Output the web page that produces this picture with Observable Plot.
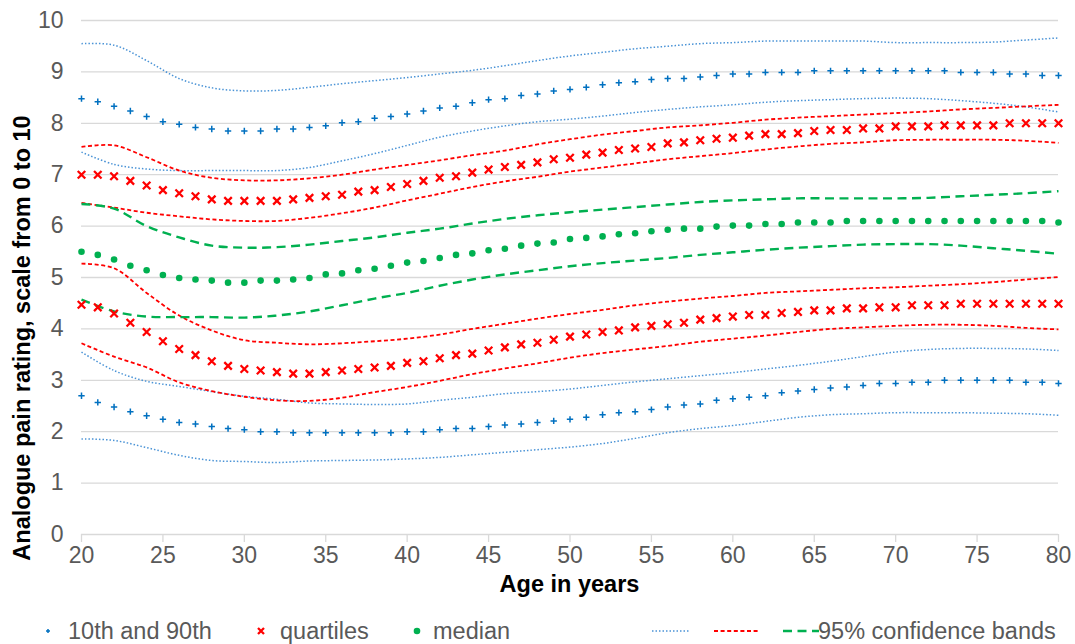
<!DOCTYPE html>
<html><head><meta charset="utf-8">
<script src="https://cdn.jsdelivr.net/npm/d3@7"></script>
<script src="https://cdn.jsdelivr.net/npm/@observablehq/plot@0.6"></script>
<style>
body{margin:0;background:#fff;font-family:"Liberation Sans",Arial,sans-serif;}
#wrap{position:relative;width:1075px;height:644px;overflow:hidden;}
#legend{position:absolute;left:0;top:616px;width:1075px;height:30px;font-size:23.5px;color:#595959;}
.li{position:absolute;top:0;line-height:30px;white-space:nowrap;}
.li svg{position:absolute;top:0;}
</style></head><body>
<div id="wrap"><div id="chart"></div><div id="legend"></div></div>
<script>
// ---- data ----
const ages = [20,21,22,23,24,25,26,27,28,29,30,31,32,33,34,35,36,37,38,39,40,41,42,43,44,45,46,47,48,49,50,51,52,53,54,55,56,57,58,59,60,61,62,63,64,65,66,67,68,69,70,71,72,73,74,75,76,77,78,79,80];
const p90 = [8.48,8.42,8.33,8.24,8.13,8.03,7.98,7.92,7.89,7.85,7.85,7.85,7.89,7.89,7.92,7.95,8.01,8.03,8.10,8.13,8.18,8.24,8.30,8.33,8.40,8.46,8.48,8.54,8.57,8.63,8.66,8.70,8.75,8.79,8.81,8.85,8.87,8.87,8.90,8.93,8.96,8.96,8.99,8.99,8.99,9.02,9.02,9.02,9.02,9.02,9.02,9.02,9.02,9.02,8.99,8.99,8.99,8.96,8.96,8.93,8.93];
const q3 = [7.00,7.00,6.97,6.88,6.79,6.70,6.64,6.58,6.52,6.49,6.49,6.49,6.49,6.52,6.55,6.58,6.61,6.67,6.70,6.76,6.82,6.88,6.94,6.97,7.04,7.10,7.15,7.19,7.24,7.30,7.33,7.39,7.43,7.48,7.51,7.54,7.61,7.63,7.67,7.70,7.72,7.76,7.79,7.79,7.81,7.85,7.87,7.87,7.90,7.90,7.94,7.94,7.94,7.96,7.96,7.96,7.96,8.00,8.00,8.00,8.00];
const median = [5.50,5.44,5.35,5.23,5.14,5.05,4.99,4.96,4.94,4.90,4.90,4.94,4.94,4.96,4.99,5.06,5.08,5.14,5.17,5.23,5.29,5.32,5.38,5.44,5.47,5.53,5.56,5.62,5.66,5.68,5.75,5.77,5.80,5.84,5.86,5.90,5.93,5.95,5.95,5.99,6.01,6.01,6.04,6.04,6.07,6.07,6.07,6.10,6.10,6.10,6.10,6.10,6.10,6.10,6.10,6.10,6.10,6.10,6.10,6.10,6.07];
const q1 = [4.47,4.42,4.30,4.12,3.94,3.76,3.61,3.49,3.37,3.28,3.22,3.19,3.16,3.13,3.13,3.16,3.19,3.22,3.25,3.28,3.34,3.37,3.43,3.49,3.52,3.58,3.64,3.70,3.73,3.79,3.85,3.89,3.94,3.97,4.03,4.06,4.09,4.12,4.18,4.21,4.24,4.27,4.27,4.31,4.33,4.36,4.36,4.40,4.40,4.42,4.42,4.46,4.46,4.46,4.49,4.49,4.49,4.49,4.49,4.49,4.49];
const p10 = [2.70,2.57,2.48,2.39,2.31,2.24,2.18,2.15,2.10,2.06,2.04,2.00,2.00,1.98,1.98,1.98,1.98,1.98,1.98,1.98,2.00,2.00,2.04,2.06,2.06,2.10,2.13,2.15,2.18,2.21,2.24,2.28,2.33,2.37,2.39,2.43,2.48,2.52,2.54,2.61,2.64,2.67,2.70,2.76,2.79,2.82,2.85,2.87,2.90,2.94,2.94,2.96,2.96,3.00,3.00,3.00,3.00,3.00,2.96,2.96,2.94];

// 95% confidence bands (read every 2 years)
const bandAges = [20,22,24,26,28,30,32,34,36,38,40,42,44,46,48,50,52,54,56,58,60,62,64,66,68,70,72,74,76,78,80];
const p90Upper = [9.55,9.52,9.22,8.87,8.69,8.63,8.64,8.70,8.77,8.83,8.89,8.96,9.03,9.12,9.22,9.31,9.38,9.45,9.50,9.55,9.57,9.60,9.60,9.60,9.60,9.57,9.57,9.57,9.58,9.62,9.66];
const p90Lower = [7.44,7.20,7.11,7.08,7.08,7.08,7.08,7.14,7.27,7.41,7.57,7.73,7.85,7.95,8.03,8.08,8.14,8.21,8.27,8.32,8.36,8.41,8.44,8.46,8.48,8.49,8.48,8.44,8.39,8.32,8.22];
const q3Upper = [7.54,7.57,7.34,7.08,6.94,6.89,6.89,6.93,7.00,7.10,7.19,7.28,7.38,7.47,7.59,7.69,7.78,7.85,7.92,7.96,8.01,8.07,8.11,8.14,8.17,8.20,8.23,8.27,8.30,8.33,8.36];
const q3Lower = [6.45,6.36,6.26,6.19,6.13,6.10,6.10,6.16,6.25,6.36,6.50,6.63,6.76,6.87,6.96,7.06,7.14,7.22,7.30,7.36,7.42,7.49,7.55,7.60,7.63,7.67,7.68,7.68,7.68,7.66,7.62];
const medUpper = [6.43,6.34,6.00,5.78,5.62,5.58,5.59,5.64,5.71,5.78,5.87,5.95,6.05,6.14,6.21,6.27,6.32,6.37,6.42,6.47,6.50,6.52,6.54,6.54,6.54,6.54,6.55,6.58,6.61,6.64,6.68];
const medLower = [4.57,4.34,4.24,4.23,4.23,4.22,4.26,4.34,4.46,4.59,4.70,4.84,4.96,5.06,5.14,5.22,5.28,5.33,5.38,5.44,5.49,5.54,5.58,5.61,5.64,5.65,5.65,5.62,5.57,5.52,5.46];
const q1Upper = [5.27,5.18,4.70,4.26,3.97,3.78,3.73,3.70,3.72,3.76,3.81,3.89,4.00,4.10,4.20,4.29,4.37,4.46,4.53,4.59,4.64,4.70,4.73,4.76,4.79,4.81,4.84,4.87,4.91,4.96,5.01];
const q1Lower = [3.72,3.46,3.25,2.96,2.79,2.68,2.61,2.60,2.66,2.77,2.87,2.99,3.12,3.23,3.33,3.44,3.53,3.60,3.67,3.75,3.81,3.87,3.94,4.00,4.03,4.06,4.08,4.08,4.06,4.02,3.99];
const p10Upper = [3.55,3.19,2.98,2.88,2.78,2.69,2.63,2.56,2.54,2.53,2.54,2.61,2.67,2.74,2.78,2.83,2.90,2.97,3.03,3.09,3.15,3.22,3.29,3.37,3.46,3.55,3.60,3.62,3.62,3.61,3.58];
const p10Lower = [1.86,1.83,1.69,1.54,1.44,1.42,1.40,1.43,1.44,1.45,1.47,1.50,1.55,1.60,1.65,1.70,1.77,1.87,1.98,2.06,2.12,2.20,2.28,2.33,2.35,2.37,2.37,2.37,2.36,2.35,2.32];

const xTicks = [20,25,30,35,40,45,50,55,60,65,70,75,80];
const yTicks = [0,1,2,3,4,5,6,7,8,9,10];
const xTitle = "Age in years";
const yTitle = "Analogue pain rating, scale from 0 to 10";
const legendItems = ["10th and 90th","quartiles","median","95% confidence bands"];

// ---- styles ----
const BLUE = "#0070C0", BLUEL = "#4A93D6", RED = "#FF0000", GREEN = "#00B050";
const blueBand = {stroke: BLUEL, strokeWidth: 1.5, strokeDasharray: "1.5 2", strokeLinecap: "butt", curve: "catmull-rom"};
const redBand = {stroke: RED, strokeWidth: 1.8, strokeDasharray: "4 2.6", strokeLinecap: "butt", curve: "catmull-rom"};
const greenBand = {stroke: GREEN, strokeWidth: 2.4, strokeDasharray: "9 5.5", strokeLinecap: "butt", curve: "catmull-rom"};

const W = 1075, H = 614;
const chart = Plot.plot({
  width: W, height: H,
  marginLeft: 81, marginRight: 17, marginTop: 20, marginBottom: H - 534,
  style: {fontFamily: '"Liberation Sans", Arial, sans-serif', fontSize: "23px", color: "#595959", background: "#fff"},
  x: {domain: [20, 80], label: null},
  y: {domain: [0, 10], label: null},
  marks: [
    Plot.gridY(yTicks, {stroke: "#D9D9D9", strokeOpacity: 1, strokeWidth: 1.3}),
    Plot.axisY(yTicks, {tickSize: 0, tickPadding: 18, fontSize: 23, fill: "#595959", tickFormat: d3.format("d"), label: null}),
    Plot.axisX(xTicks, {tickSize: 8, stroke: "#D9D9D9", strokeWidth: 1.3, tickPadding: 4, fontSize: 23, fill: "#595959", tickFormat: d3.format("d"), label: null}),
    Plot.line(bandAges, {x: bandAges, y: p90Upper, ...blueBand}),
    Plot.line(bandAges, {x: bandAges, y: p90Lower, ...blueBand}),
    Plot.line(bandAges, {x: bandAges, y: p10Upper, ...blueBand}),
    Plot.line(bandAges, {x: bandAges, y: p10Lower, ...blueBand}),
    Plot.line(bandAges, {x: bandAges, y: q3Upper, ...redBand}),
    Plot.line(bandAges, {x: bandAges, y: q3Lower, ...redBand}),
    Plot.line(bandAges, {x: bandAges, y: q1Upper, ...redBand}),
    Plot.line(bandAges, {x: bandAges, y: q1Lower, ...redBand}),
    Plot.line(bandAges, {x: bandAges, y: medUpper, ...greenBand}),
    Plot.line(bandAges, {x: bandAges, y: medLower, ...greenBand}),
    Plot.dot(ages, {x: ages, y: p90, symbol: "plus", r: 2.2, stroke: BLUE, strokeWidth: 1.5}),
    Plot.dot(ages, {x: ages, y: p10, symbol: "plus", r: 2.2, stroke: BLUE, strokeWidth: 1.5}),
    Plot.dot(ages, {x: ages, y: q3, symbol: "times", r: 3.5, stroke: RED, strokeWidth: 2.3}),
    Plot.dot(ages, {x: ages, y: q1, symbol: "times", r: 3.5, stroke: RED, strokeWidth: 2.3}),
    Plot.dot(ages, {x: ages, y: median, r: 3.3, fill: GREEN, stroke: "none"})
  ]
});
document.getElementById("chart").appendChild(chart);

// axis titles
const svg = d3.select(chart);
const sx = chart.scale("x");
svg.append("text").text(xTitle)
  .attr("x", (sx.apply(20) + sx.apply(80)) / 2).attr("y", 592)
  .attr("text-anchor", "middle").attr("font-weight", "bold").attr("font-size", 23.5).attr("fill", "#000");
svg.append("text").text(yTitle)
  .attr("transform", `translate(30,338) rotate(-90)`)
  .attr("text-anchor", "middle").attr("font-weight", "bold").attr("font-size", 23.5).attr("fill", "#000");

// legend
const lg = document.getElementById("legend");
function item(left, svgW, svgContent, text, textLeft) {
  const d = document.createElement("div");
  d.className = "li"; d.style.left = left + "px"; d.style.width = "400px";
  d.innerHTML = `<svg width="${svgW}" height="30" style="left:0">${svgContent}</svg>` +
    (text ? `<span style="position:absolute;left:${textLeft}px">${text}</span>` : "");
  lg.appendChild(d);
}
item(42, 12, `<path d="M6,13v4M4,15h4" stroke="${BLUE}" stroke-width="1.5"/>`, legendItems[0], 26);
item(254, 14, `<path d="M4,12L10,18M10,12L4,18" stroke="${RED}" stroke-width="2.3"/>`, legendItems[1], 26);
item(410, 14, `<circle cx="7" cy="15" r="3.3" fill="${GREEN}"/>`, legendItems[2], 23);
item(650, 42, `<line x1="2" x2="40" y1="15" y2="15" stroke="${BLUEL}" stroke-width="1.5" stroke-dasharray="1.5 2"/>`, "", 0);
item(712, 48, `<line x1="2" x2="46" y1="15" y2="15" stroke="${RED}" stroke-width="1.8" stroke-dasharray="4 2.6"/>`, "", 0);
item(781, 40, `<line x1="2" x2="38" y1="15" y2="15" stroke="${GREEN}" stroke-width="2.4" stroke-dasharray="9 5.5"/>`, legendItems[3], 37);
</script>
</body></html>
